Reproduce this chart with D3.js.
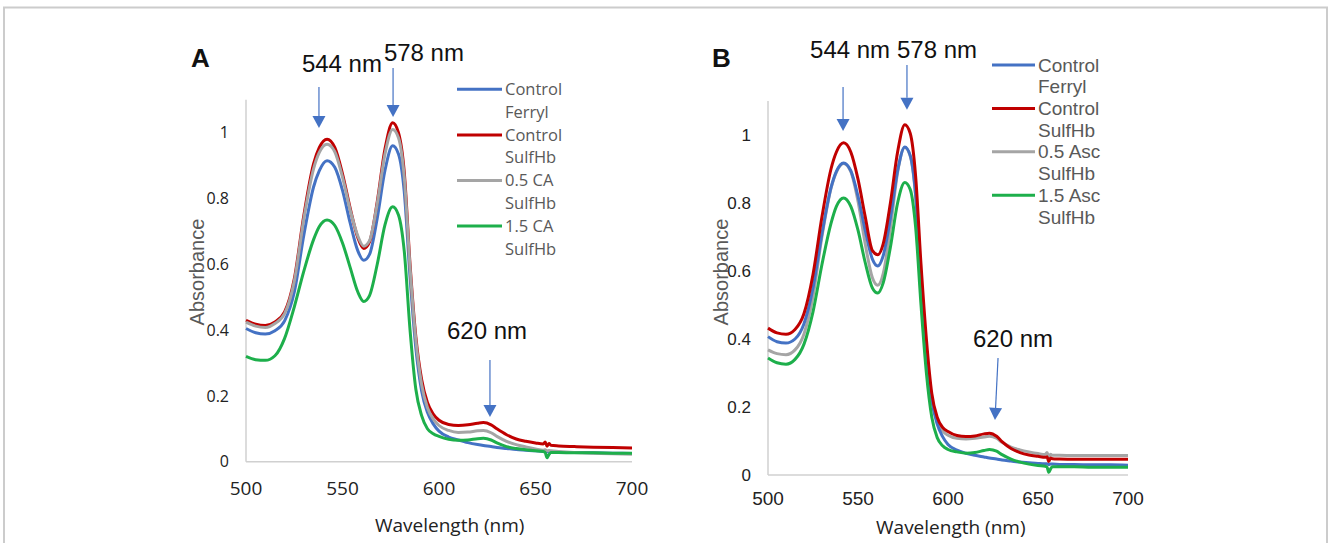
<!DOCTYPE html>
<html>
<head>
<meta charset="utf-8">
<script src="https://cdn.jsdelivr.net/npm/d3@7/dist/d3.min.js"></script>
<style>
  html, body { margin: 0; padding: 0; background: #fff; }
  svg { display: block; }
</style>
</head>
<body>
<svg id="chart" width="1328" height="543"></svg>
<script>
// Wavelength grid (nm) shared by every spectrum
const wavelengths = [500,505,510,515,520,525,530,535,538,542,546,550,554,558,561,564,568,572,576,579,582,585,588,591,594,597,600,605,610,615,620,623,627,630,635,640,645,650,654,655,656,657,658,662,670,680,690,700];

// Panel A spectra (absorbance)
const aFerryl = [.405,.392,.388,.398,.428,.515,.690,.835,.885,.915,.895,.825,.725,.640,.612,.630,.740,.885,.960,.935,.820,.560,.345,.215,.150,.115,.093,.075,.066,.058,.052,.049,.046,.043,.040,.037,.035,.033,.031,.031,.030,.030,.030,.029,.028,.027,.026,.025];
const aSulfHb = [.430,.418,.414,.425,.455,.555,.750,.905,.955,.980,.955,.875,.770,.680,.648,.668,.790,.950,1.030,1.000,.880,.600,.380,.250,.180,.145,.126,.113,.110,.112,.117,.119,.112,.100,.082,.069,.062,.057,.054,.060,.047,.055,.050,.048,.046,.044,.043,.042];
const aCA05 = [.424,.412,.408,.420,.450,.548,.740,.890,.940,.965,.942,.865,.765,.685,.655,.672,.785,.935,1.010,.985,.865,.590,.370,.235,.165,.130,.110,.095,.089,.090,.094,.095,.088,.077,.062,.052,.045,.039,.035,.036,.033,.034,.033,.031,.028,.026,.024,.023];
const aCA15 = [.320,.310,.308,.322,.375,.470,.580,.675,.715,.735,.718,.665,.590,.515,.487,.505,.600,.720,.775,.750,.640,.400,.220,.140,.100,.085,.077,.068,.065,.066,.070,.071,.066,.057,.046,.040,.036,.033,.031,.028,.012,.022,.028,.028,.027,.027,.026,.026];

// Panel B spectra (absorbance)
const bFerryl = [.407,.392,.388,.400,.445,.550,.710,.845,.893,.918,.895,.820,.720,.635,.615,.645,.755,.895,.965,.940,.825,.575,.365,.220,.150,.113,.090,.073,.064,.058,.053,.050,.047,.044,.041,.038,.036,.034,.033,.033,.031,.032,.032,.031,.031,.030,.030,.029];
const bSulfHb = [.432,.418,.414,.428,.475,.590,.760,.900,.950,.977,.950,.870,.760,.660,.648,.680,.800,.950,1.030,1.005,.880,.620,.400,.240,.170,.140,.128,.116,.113,.115,.121,.123,.114,.098,.078,.066,.059,.055,.052,.054,.040,.050,.048,.047,.046,.046,.046,.046];
const bAsc05 = [.368,.357,.354,.368,.415,.525,.702,.843,.891,.916,.892,.805,.680,.580,.558,.592,.725,.890,.963,.938,.820,.572,.365,.225,.160,.130,.117,.108,.106,.108,.112,.114,.108,.096,.082,.074,.068,.063,.060,.066,.054,.061,.058,.058,.057,.057,.057,.057];
const bAsc15 = [.344,.330,.326,.340,.385,.480,.620,.740,.790,.815,.790,.720,.625,.550,.535,.565,.670,.800,.860,.840,.730,.500,.300,.170,.110,.086,.075,.068,.064,.066,.072,.075,.070,.060,.047,.038,.032,.028,.026,.024,.008,.018,.024,.024,.024,.023,.023,.023];

// Axis ticks
const xTicks = [500, 550, 600, 650, 700];
const yTicks = [0, 0.2, 0.4, 0.6, 0.8, 1];

// Legend labels (two lines each)
const legendA = [["Control", "Ferryl"], ["Control", "SulfHb"], ["0.5 CA", "SulfHb"], ["1.5 CA", "SulfHb"]];
const legendB = [["Control", "Ferryl"], ["Control", "SulfHb"], ["0.5 Asc", "SulfHb"], ["1.5 Asc", "SulfHb"]];

// Peak annotations: label text, arrow wavelength, arrow tail / tip absorbance
const annotA = [
  { text: "544 nm", lx: 549.7, ly: 1.184, ax: 537.8, y0: 1.139, y1: 1.014 },
  { text: "578 nm", lx: 592.2, ly: 1.219, ax: 576.2, y0: 1.197, y1: 1.048 },
  { text: "620 nm", lx: 624.9, ly: 0.372, ax: 626.4, y0: 0.309, y1: 0.136 }
];
const annotB = [
  { text: "544 nm", lx: 545.6, ly: 1.226, ax: 541.7, y0: 1.141, y1: 1.012 },
  { text: "578 nm", lx: 593.9, ly: 1.226, ax: 577.2, y0: 1.206, y1: 1.074 },
  { text: "620 nm", lx: 636.1, ly: 0.376, ax: 627.8, ax1: 626.1, y0: 0.344, y1: 0.162 }
];

const colors = { ferryl: "#4472C4", sulf: "#C00000", low: "#A5A5A5", high: "#1DAF4B" };
const arrowColor = "#4472C4";
const textGray = "#595959";

const svg = d3.select("#chart");

// Outer frame (top, left, right edges)
svg.append("path")
  .attr("d", "M4,543 V7.5 H1327 V543")
  .attr("fill", "none").attr("stroke", "#cccccc").attr("stroke-width", 2);

function drawPanel(cfg) {
  const x = d3.scaleLinear().domain([500, 700]).range(cfg.xr);
  const y = d3.scaleLinear().domain([0, 1.1]).range(cfg.yr);
  const g = svg.append("g");

  // Axis lines
  g.append("line").attr("x1", x(500)).attr("x2", x(500)).attr("y1", y(0)).attr("y2", y(1.1))
    .attr("stroke", "#d0d0d0").attr("stroke-width", 1.5);
  g.append("line").attr("x1", x(500)).attr("x2", x(700)).attr("y1", y(0)).attr("y2", y(0))
    .attr("stroke", "#d0d0d0").attr("stroke-width", 1.5);

  // Tick labels
  g.selectAll(".yt").data(yTicks).join("text")
    .attr("x", x(500) - 17).attr("y", d => y(d)).attr("dy", "0.35em")
    .attr("text-anchor", "end").attr("font-family", cfg.tickFont).attr("font-size", cfg.yTickSize)
    .attr("fill", "#222").text(d => d3.format("~g")(d));
  g.selectAll(".xt").data(xTicks).join("text")
    .attr("x", d => x(d)).attr("y", y(0) + cfg.xTickOff)
    .attr("text-anchor", "middle").attr("font-family", cfg.tickFont).attr("font-size", cfg.xTickSize)
    .attr("fill", "#222").text(d => d);

  // Axis titles
  g.append("text").attr("x", cfg.xTitle[0]).attr("y", cfg.xTitle[1]).attr("text-anchor", "middle")
    .attr("font-family", "'Open Sans', sans-serif").attr("font-size", 19).attr("fill", "#222")
    .text("Wavelength (nm)");
  g.append("text").attr("transform", `translate(${cfg.yTitle[0]},${cfg.yTitle[1]}) rotate(-90)`)
    .attr("text-anchor", "middle").attr("dy", "0.35em")
    .attr("font-family", "'Liberation Sans', Arial, sans-serif").attr("font-size", 20).attr("fill", textGray)
    .text("Absorbance");

  // Spectra
  const line = d3.line().x((d, i) => x(wavelengths[i])).y(d => y(d)).curve(d3.curveMonotoneX);
  cfg.series.forEach(s => {
    g.append("path").attr("d", line(s.values)).attr("fill", "none")
      .attr("stroke", s.color).attr("stroke-width", 3).attr("stroke-linejoin", "round");
  });

  // Annotations
  cfg.annot.forEach(a => {
    g.append("text").attr("x", x(a.lx)).attr("y", y(a.ly)).attr("text-anchor", "middle")
      .attr("font-family", "'Liberation Sans', Arial, sans-serif").attr("font-size", 24).attr("fill", "#111")
      .text(a.text);
    const x0 = x(a.ax), x1 = x(a.ax1 !== undefined ? a.ax1 : a.ax);
    const ty = y(a.y1), sy = y(a.y0);
    const ang = Math.atan2(ty - sy, x1 - x0);
    const hl = 12, hw = 6.5;
    const bx = x1 - hl * Math.cos(ang), by = ty - hl * Math.sin(ang);
    g.append("line").attr("x1", x0).attr("y1", sy).attr("x2", bx).attr("y2", by)
      .attr("stroke", arrowColor).attr("stroke-width", 1.2);
    const px = -Math.sin(ang) * hw, py = Math.cos(ang) * hw;
    g.append("path").attr("d", `M${x1},${ty} L${bx + px},${by + py} L${bx - px},${by - py} Z`)
      .attr("fill", arrowColor);
  });

  // Panel letter
  g.append("text").attr("x", cfg.letter[0]).attr("y", cfg.letter[1])
    .attr("font-family", "'Liberation Sans', Arial, sans-serif").attr("font-weight", "bold")
    .attr("font-size", 26).attr("fill", "#111").text(cfg.letterText);

  // Legend
  const lg = g.append("g");
  cfg.legend.forEach((lab, i) => {
    const cy0 = cfg.legendY + i * 2 * cfg.legendStep;
    lg.append("line").attr("x1", cfg.legendX[0]).attr("x2", cfg.legendX[1]).attr("y1", cy0).attr("y2", cy0)
      .attr("stroke", cfg.series[cfg.legendOrder[i]].color).attr("stroke-width", 3);
    lab.forEach((t, j) => {
      lg.append("text").attr("x", cfg.legendX[1] + 3).attr("y", cy0 + j * cfg.legendStep).attr("dy", "0.35em")
        .attr("font-family", cfg.legendFont).attr("font-size", cfg.legendSize).attr("fill", textGray).text(t);
    });
  });
}

drawPanel({
  xr: [246, 632], yr: [461.7, 99.8],
  tickFont: "'Open Sans', sans-serif", yTickSize: 16, xTickSize: 19, xTickOff: 33,
  xTitle: [449.7, 532], yTitle: [197, 272],
  series: [
    { values: aFerryl, color: colors.ferryl },
    { values: aSulfHb, color: colors.sulf },
    { values: aCA05, color: colors.low },
    { values: aCA15, color: colors.high }
  ],
  legendOrder: [0, 1, 2, 3],
  annot: annotA,
  letter: [191, 67], letterText: "A",
  legend: legendA, legendX: [457, 502], legendY: 89.3, legendStep: 22.8,
  legendFont: "'Open Sans', sans-serif", legendSize: 16.5
});

drawPanel({
  xr: [768, 1128], yr: [475, 101],
  tickFont: "'Liberation Sans', Arial, sans-serif", yTickSize: 17, xTickSize: 19, xTickOff: 30,
  xTitle: [950.8, 534], yTitle: [721, 272],
  series: [
    { values: bAsc05, color: colors.low },
    { values: bFerryl, color: colors.ferryl },
    { values: bSulfHb, color: colors.sulf },
    { values: bAsc15, color: colors.high }
  ],
  legendOrder: [1, 2, 0, 3],
  annot: annotB,
  letter: [712, 67], letterText: "B",
  legend: legendB, legendX: [992, 1035], legendY: 65, legendStep: 21.7,
  legendFont: "'Liberation Sans', Arial, sans-serif", legendSize: 19
});
</script>
</body>
</html>
